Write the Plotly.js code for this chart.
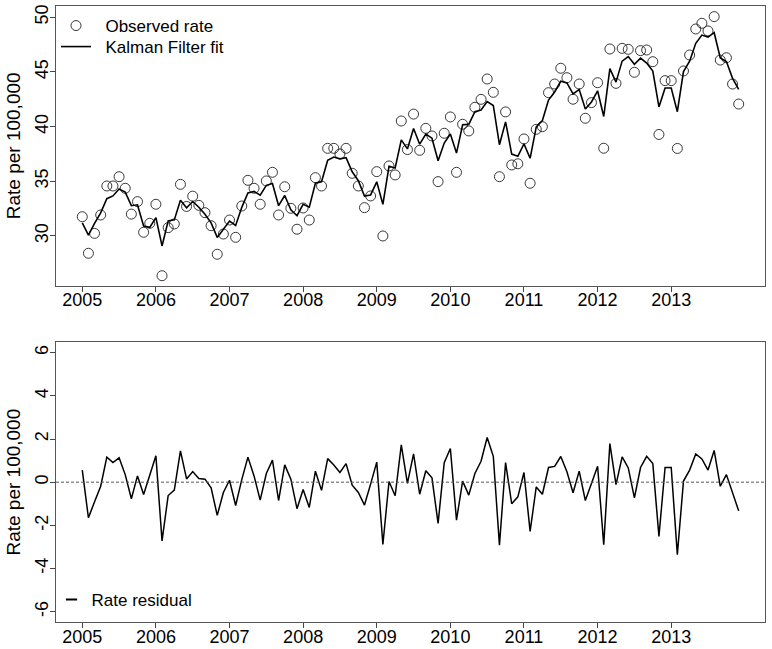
<!DOCTYPE html>
<html>
<head>
<meta charset="utf-8">
<script src="https://cdn.plot.ly/plotly-3.0.1.min.js"></script>
<style>html,body{margin:0;padding:0;background:#fff;}#chart{width:772px;height:649px;}</style>
</head>
<body>
<div id="chart"></div>
<script>
// Monthly series, January 2005 to December 2013
var startYear = 2005;
var observedRate = [
31.76,28.42,30.24,31.92,34.57,34.57,35.42,34.36,32.00,33.14,30.34,31.16,
32.90,26.37,30.76,31.10,34.72,32.70,33.64,32.80,32.13,30.94,28.33,30.18,
31.46,29.88,32.74,35.09,34.36,32.90,35.03,35.82,31.92,34.50,32.53,30.62,
32.56,31.46,35.33,34.57,38.01,38.01,37.50,38.01,35.73,34.57,32.59,33.66,
35.88,30.00,36.40,35.58,40.51,37.90,41.14,37.83,39.84,39.14,34.97,39.39,
40.88,35.82,40.21,39.60,41.76,42.49,44.35,43.13,35.42,41.34,36.49,36.60,
38.87,34.82,39.75,39.99,43.10,43.89,45.33,44.47,42.50,43.89,40.76,42.19,
44.01,38.02,47.09,43.95,47.15,47.06,44.96,46.94,47.00,45.93,39.28,44.20,
44.20,38.00,45.08,46.54,48.92,49.44,48.74,50.05,46.08,46.29,43.89,42.06
];
var kalmanFit = [
31.20,30.07,31.15,32.11,33.41,33.66,34.29,34.01,32.77,32.85,30.91,30.79,
31.68,29.09,31.38,31.47,33.27,32.57,33.15,32.63,31.99,31.20,29.87,30.66,
31.37,30.96,32.62,33.93,34.07,33.73,34.63,34.80,32.77,33.70,32.39,31.85,
32.90,32.63,34.82,34.95,36.92,37.21,37.05,37.15,35.87,35.05,33.65,33.75,
34.95,32.89,36.37,36.21,38.78,37.96,39.83,38.39,39.31,38.94,36.88,38.49,
39.32,37.58,40.16,40.20,41.36,41.52,42.28,41.93,38.34,40.43,37.49,37.28,
38.42,37.10,39.97,40.55,42.42,43.16,44.14,43.99,42.99,43.38,41.61,42.25,
43.27,40.92,45.30,44.06,45.98,46.40,45.69,46.26,45.80,45.07,41.79,43.52,
43.52,41.36,45.03,45.98,47.61,48.36,48.18,48.58,46.27,45.94,44.41,43.39
];
var rateResidual = [
0.56,-1.65,-0.91,-0.19,1.16,0.91,1.13,0.35,-0.77,0.29,-0.57,0.37,
1.22,-2.72,-0.62,-0.37,1.45,0.15,0.49,0.17,0.14,-0.26,-1.54,-0.48,
0.09,-1.08,0.12,1.16,0.29,-0.83,0.40,1.02,-0.85,0.80,0.14,-1.23,
-0.34,-1.17,0.51,-0.38,1.09,0.80,0.45,0.86,-0.14,-0.48,-1.06,-0.09,
0.93,-2.89,0.03,-0.63,1.73,-0.06,1.31,-0.56,0.53,0.20,-1.91,0.90,
1.56,-1.76,0.05,-0.60,0.40,0.97,2.07,1.20,-2.92,0.91,-1.00,-0.68,
0.45,-2.28,-0.22,-0.56,0.68,0.73,1.19,0.48,-0.49,0.51,-0.85,-0.06,
0.74,-2.90,1.79,-0.11,1.17,0.66,-0.73,0.68,1.20,0.86,-2.51,0.68,
0.68,-3.36,0.05,0.56,1.31,1.08,0.56,1.47,-0.19,0.35,-0.52,-1.33
];
var xTickVals = [2005,2006,2007,2008,2009,2010,2011,2012,2013];
var xTickText = ['2005','2006','2007','2008','2009','2010','2011','2012','2013'];
var yTopTickVals = [30,35,40,45,50];
var yTopTickText = ['30','35','40','45','50'];
var yBotTickVals = [-6,-4,-2,0,2,4,6];
var yBotTickText = ['-6','-4','-2','0','2','4','6'];

var months = [];
for (var i = 0; i < observedRate.length; i++) { months.push(startYear + i / 12); }

var FONT = 'Liberation Sans, Arial, Helvetica, sans-serif';
var NB = '\u00a0\u00a0';

var traces = [
  {x: months, y: observedRate, type: 'scatter', mode: 'markers', name: NB + 'Observed rate',
   marker: {symbol: 'circle-open', size: 10, color: '#222', line: {width: 0.9, color: '#222'}},
   xaxis: 'x', yaxis: 'y', legend: 'legend'},
  {x: months, y: kalmanFit, type: 'scatter', mode: 'lines', name: NB + 'Kalman Filter fit',
   line: {color: '#000', width: 1.6}, xaxis: 'x', yaxis: 'y', legend: 'legend3'},
  {x: months, y: rateResidual, type: 'scatter', mode: 'lines', name: 'Rate residual',
   line: {color: '#000', width: 1.5}, xaxis: 'x2', yaxis: 'y2', showlegend: false},
  {x: [null], y: [null], type: 'scatter', mode: 'markers', name: 'Rate residual',
   marker: {symbol: 'line-ew-open', size: 8, color: '#000', line: {width: 2, color: '#000'}},
   xaxis: 'x2', yaxis: 'y2', legend: 'legend2'}
];

function xAxis(anchor) {
  return {domain: [0, 1], range: [2004.643, 2014.274], anchor: anchor,
    tickmode: 'array', tickvals: xTickVals, ticktext: xTickText,
    ticks: 'outside', ticklen: 5, tickcolor: '#444', tickwidth: 1, ticklabelstandoff: -7,
    showline: true, mirror: true, linecolor: '#555', linewidth: 1,
    showgrid: false, zeroline: false, tickfont: {family: FONT, size: 18, color: '#000'}};
}
function yAxis(anchor, dom, rng, tv, tt) {
  return {domain: dom, range: rng, anchor: anchor,
    tickmode: 'array', tickvals: tv, ticktext: tt, tickangle: -90,
    ticks: 'outside', ticklen: 5, tickcolor: '#444', tickwidth: 1, ticklabelstandoff: -5,
    showline: true, mirror: true, linecolor: '#555', linewidth: 1,
    showgrid: false, zeroline: false, tickfont: {family: FONT, size: 18, color: '#000'},
    title: {text: 'Rate per 100,000', font: {family: FONT, size: 19, color: '#000'}, standoff: 6}};
}

function legendAt(xp, yp) {
  return {x: xp, y: yp, xanchor: 'left', yanchor: 'middle', bgcolor: 'rgba(0,0,0,0)',
    font: {family: FONT, size: 17, color: '#000'}, itemwidth: 30, borderwidth: 0};
}

var layout = {
  width: 772, height: 649,
  margin: {l: 56, r: 7, t: 6, b: 27},
  paper_bgcolor: '#fff', plot_bgcolor: '#fff',
  font: {family: FONT, size: 18, color: '#000'},
  xaxis: xAxis('y'),
  yaxis: yAxis('x', [0.546, 1], [25.46, 51.02], yTopTickVals, yTopTickText),
  xaxis2: xAxis('y2'),
  yaxis2: yAxis('x2', [0, 0.454], [-6.48, 6.48], yBotTickVals, yBotTickText),
  showlegend: true,
  legend: legendAt(0, 0.9675),
  legend3: legendAt(0, 0.9334),
  legend2: legendAt(-0.0063, 0.0357),
  shapes: [{type: 'line', xref: 'x2 domain', yref: 'y2', x0: 0, x1: 1, y0: 0, y1: 0,
    line: {color: '#555', width: 1, dash: '3px,2px'}}]
};

Plotly.newPlot('chart', traces, layout, {displayModeBar: false, responsive: false});
</script>
</body>
</html>
